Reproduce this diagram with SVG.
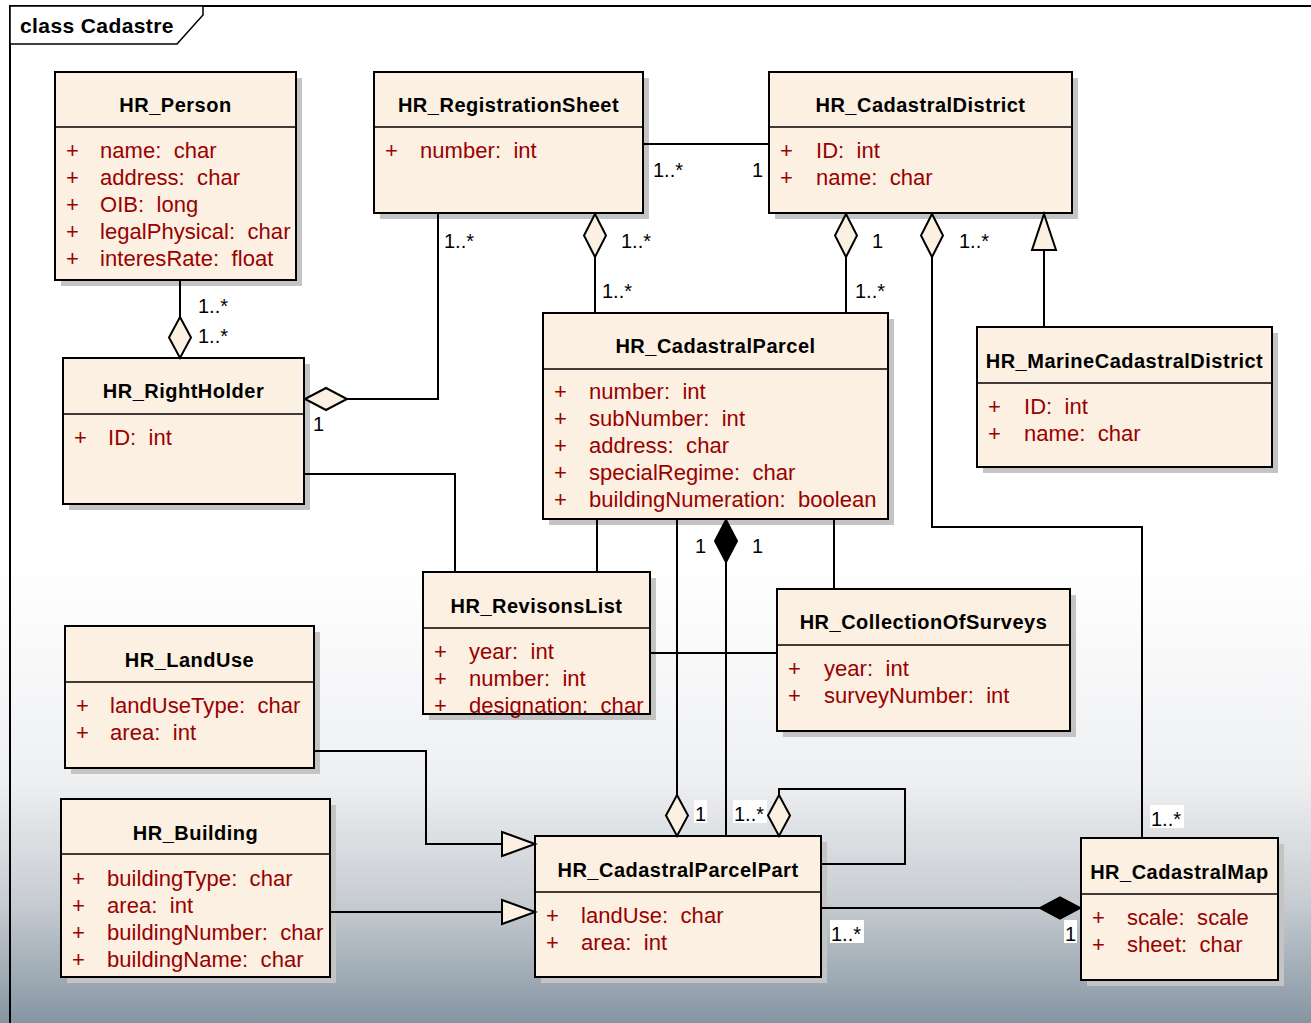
<svg xmlns="http://www.w3.org/2000/svg" width="1311" height="1023" viewBox="0 0 1311 1023">
<defs>
<linearGradient id="bg" x1="0" y1="0" x2="0" y2="1">
<stop offset="0" stop-color="#ffffff"/>
<stop offset="0.55" stop-color="#ffffff"/>
<stop offset="0.76" stop-color="#eff0f2"/>
<stop offset="0.88" stop-color="#c8cdd2"/>
<stop offset="1" stop-color="#8595a2"/>
</linearGradient>
<style>
.shadow{fill:#c4c4c4}
.box{fill:#fbf0e2;stroke:#000;stroke-width:2}
.div{stroke:#000;stroke-width:1.5}
.title{font-family:"Liberation Sans",Arial,sans-serif;font-weight:bold;font-size:20px;letter-spacing:0.5px;text-anchor:middle;fill:#000}
.attr{font-family:"Liberation Sans",Arial,sans-serif;font-size:22px;letter-spacing:0.05px;fill:#990000;white-space:pre}
.conn{fill:none;stroke:#000;stroke-width:2}
.hollow{fill:#fbf0e2;stroke:#000;stroke-width:2}
.filled{fill:#000;stroke:#000;stroke-width:2}
.lbl{font-family:"Liberation Sans",Arial,sans-serif;font-size:20px;fill:#000}
.lblbg{fill:#ffffff}
.frame{fill:none;stroke:#000;stroke-width:2}
</style>
</defs>
<rect x="0" y="0" width="1311" height="1023" fill="url(#bg)"/>
<g id="frame">
<path class="frame" d="M10,1023 V6 H1311"/>
<path d="M10,6 H203 V15 L177,44 H10 Z" fill="#ffffff" stroke="#000" stroke-width="1.5"/>
<text x="20" y="33" style="font-family:'Liberation Sans',Arial,sans-serif;font-weight:bold;font-size:21px;letter-spacing:0.4px">class Cadastre</text>
</g>

<g id="HR_Person">
<rect class="shadow" x="61" y="78" width="241" height="208"/>
<rect class="box" x="55" y="72" width="241" height="208"/>
<line class="div" x1="55" y1="127" x2="296" y2="127"/>
<text class="title" x="175.5" y="112">HR_Person</text>
<text class="attr" x="66" y="158">+</text><text class="attr" x="100" y="158">name:  char</text>
<text class="attr" x="66" y="185">+</text><text class="attr" x="100" y="185">address:  char</text>
<text class="attr" x="66" y="212">+</text><text class="attr" x="100" y="212">OIB:  long</text>
<text class="attr" x="66" y="239">+</text><text class="attr" x="100" y="239">legalPhysical:  char</text>
<text class="attr" x="66" y="266">+</text><text class="attr" x="100" y="266">interesRate:  float</text>
</g>

<g id="HR_RegistrationSheet">
<rect class="shadow" x="380" y="78" width="269" height="141"/>
<rect class="box" x="374" y="72" width="269" height="141"/>
<line class="div" x1="374" y1="127" x2="643" y2="127"/>
<text class="title" x="508.5" y="112">HR_RegistrationSheet</text>
<text class="attr" x="385" y="158">+</text><text class="attr" x="420" y="158">number:  int</text>
</g>

<g id="HR_CadastralDistrict">
<rect class="shadow" x="775" y="78" width="303" height="141"/>
<rect class="box" x="769" y="72" width="303" height="141"/>
<line class="div" x1="769" y1="127" x2="1072" y2="127"/>
<text class="title" x="920.5" y="112">HR_CadastralDistrict</text>
<text class="attr" x="780" y="158">+</text><text class="attr" x="816" y="158">ID:  int</text>
<text class="attr" x="780" y="185">+</text><text class="attr" x="816" y="185">name:  char</text>
</g>

<g id="HR_RightHolder">
<rect class="shadow" x="69" y="364" width="241" height="146"/>
<rect class="box" x="63" y="358" width="241" height="146"/>
<line class="div" x1="63" y1="414" x2="304" y2="414"/>
<text class="title" x="183.5" y="398">HR_RightHolder</text>
<text class="attr" x="74" y="445">+</text><text class="attr" x="108" y="445">ID:  int</text>
</g>

<g id="HR_CadastralParcel">
<rect class="shadow" x="549" y="319" width="345" height="206"/>
<rect class="box" x="543" y="313" width="345" height="206"/>
<line class="div" x1="543" y1="369" x2="888" y2="369"/>
<text class="title" x="715.5" y="353">HR_CadastralParcel</text>
<text class="attr" x="554" y="399">+</text><text class="attr" x="589" y="399">number:  int</text>
<text class="attr" x="554" y="426">+</text><text class="attr" x="589" y="426">subNumber:  int</text>
<text class="attr" x="554" y="453">+</text><text class="attr" x="589" y="453">address:  char</text>
<text class="attr" x="554" y="480">+</text><text class="attr" x="589" y="480">specialRegime:  char</text>
<text class="attr" x="554" y="507">+</text><text class="attr" x="589" y="507">buildingNumeration:  boolean</text>
</g>

<g id="HR_MarineCadastralDistrict">
<rect class="shadow" x="983" y="333" width="295" height="140"/>
<rect class="box" x="977" y="327" width="295" height="140"/>
<line class="div" x1="977" y1="383" x2="1272" y2="383"/>
<text class="title" x="1124.5" y="368">HR_MarineCadastralDistrict</text>
<text class="attr" x="988" y="414">+</text><text class="attr" x="1024" y="414">ID:  int</text>
<text class="attr" x="988" y="441">+</text><text class="attr" x="1024" y="441">name:  char</text>
</g>

<g id="HR_RevisonsList">
<rect class="shadow" x="429" y="578" width="227" height="142"/>
<rect class="box" x="423" y="572" width="227" height="142"/>
<line class="div" x1="423" y1="628" x2="650" y2="628"/>
<text class="title" x="536.5" y="613">HR_RevisonsList</text>
<text class="attr" x="434" y="659">+</text><text class="attr" x="469" y="659">year:  int</text>
<text class="attr" x="434" y="686">+</text><text class="attr" x="469" y="686">number:  int</text>
<text class="attr" x="434" y="713">+</text><text class="attr" x="469" y="713">designation:  char</text>
</g>

<g id="HR_CollectionOfSurveys">
<rect class="shadow" x="783" y="595" width="293" height="142"/>
<rect class="box" x="777" y="589" width="293" height="142"/>
<line class="div" x1="777" y1="645" x2="1070" y2="645"/>
<text class="title" x="923.5" y="629">HR_CollectionOfSurveys</text>
<text class="attr" x="788" y="676">+</text><text class="attr" x="824" y="676">year:  int</text>
<text class="attr" x="788" y="703">+</text><text class="attr" x="824" y="703">surveyNumber:  int</text>
</g>

<g id="HR_LandUse">
<rect class="shadow" x="71" y="632" width="249" height="142"/>
<rect class="box" x="65" y="626" width="249" height="142"/>
<line class="div" x1="65" y1="682" x2="314" y2="682"/>
<text class="title" x="189.5" y="667">HR_LandUse</text>
<text class="attr" x="76" y="713">+</text><text class="attr" x="110" y="713">landUseType:  char</text>
<text class="attr" x="76" y="740">+</text><text class="attr" x="110" y="740">area:  int</text>
</g>

<g id="HR_Building">
<rect class="shadow" x="67" y="805" width="269" height="178"/>
<rect class="box" x="61" y="799" width="269" height="178"/>
<line class="div" x1="61" y1="854" x2="330" y2="854"/>
<text class="title" x="195.5" y="840">HR_Building</text>
<text class="attr" x="72" y="886">+</text><text class="attr" x="107" y="886">buildingType:  char</text>
<text class="attr" x="72" y="913">+</text><text class="attr" x="107" y="913">area:  int</text>
<text class="attr" x="72" y="940">+</text><text class="attr" x="107" y="940">buildingNumber:  char</text>
<text class="attr" x="72" y="967">+</text><text class="attr" x="107" y="967">buildingName:  char</text>
</g>

<g id="HR_CadastralParcelPart">
<rect class="shadow" x="541" y="842" width="286" height="141"/>
<rect class="box" x="535" y="836" width="286" height="141"/>
<line class="div" x1="535" y1="892" x2="821" y2="892"/>
<text class="title" x="678" y="877">HR_CadastralParcelPart</text>
<text class="attr" x="546" y="923">+</text><text class="attr" x="581" y="923">landUse:  char</text>
<text class="attr" x="546" y="950">+</text><text class="attr" x="581" y="950">area:  int</text>
</g>

<g id="HR_CadastralMap">
<rect class="shadow" x="1087" y="844" width="197" height="142"/>
<rect class="box" x="1081" y="838" width="197" height="142"/>
<line class="div" x1="1081" y1="894" x2="1278" y2="894"/>
<text class="title" x="1179.5" y="879">HR_CadastralMap</text>
<text class="attr" x="1092" y="925">+</text><text class="attr" x="1127" y="925">scale:  scale</text>
<text class="attr" x="1092" y="952">+</text><text class="attr" x="1127" y="952">sheet:  char</text>
</g>

<g id="connectors">
<path class="conn" d="M643,144 H769"/>
<path class="conn" d="M595,257 V313"/>
<path class="hollow" d="M595,214 L606,235.5 L595,257 L584,235.5 Z"/>
<path class="conn" d="M846,257 V313"/>
<path class="hollow" d="M846,214 L857,235.5 L846,257 L835,235.5 Z"/>
<path class="conn" d="M932,257 V527 H1142 V838"/>
<path class="hollow" d="M932,214 L943,235.5 L932,257 L921,235.5 Z"/>
<path class="conn" d="M1044,327 V250"/>
<path class="hollow" d="M1044,214 L1056,250 L1032,250 Z"/>
<path class="conn" d="M180,280 V318"/>
<path class="hollow" d="M180,317 L191,337.5 L180,358 L169,337.5 Z"/>
<path class="conn" d="M438,213 V399 H347"/>
<path class="hollow" d="M305,399 L326,388 L347,399 L326,410 Z"/>
<path class="conn" d="M304,474 H455 V572"/>
<path class="conn" d="M597,519 V572"/>
<path class="conn" d="M834,519 V589"/>
<path class="conn" d="M650,653 H777"/>
<path class="conn" d="M677,519 V795"/>
<path class="hollow" d="M677,795 L688,815.5 L677,836 L666,815.5 Z"/>
<path class="conn" d="M726,562 V836"/>
<path class="filled" d="M726,520 L737,541 L726,562 L715,541 Z"/>
<path class="conn" d="M779,795 V789 H905 V864 H821"/>
<path class="hollow" d="M779,795 L790,815.5 L779,836 L768,815.5 Z"/>
<path class="conn" d="M314,751 H426 V844 H502"/>
<path class="hollow" d="M535,844 L502,832 L502,856 Z"/>
<path class="conn" d="M330,912 H502"/>
<path class="hollow" d="M535,912 L502,900 L502,924 Z"/>
<path class="conn" d="M821,908 H1040"/>
<path class="filled" d="M1080,908 L1060,897.5 L1040,908 L1060,918.5 Z"/>

<text class="lbl" x="653" y="177">1..*</text>
<text class="lbl" x="752" y="177">1</text>
<text class="lbl" x="444" y="248">1..*</text>
<text class="lbl" x="621" y="248">1..*</text>
<text class="lbl" x="602" y="298">1..*</text>
<text class="lbl" x="872" y="248">1</text>
<text class="lbl" x="855" y="298">1..*</text>
<text class="lbl" x="959" y="248">1..*</text>
<text class="lbl" x="198" y="313">1..*</text>
<text class="lbl" x="198" y="343">1..*</text>
<text class="lbl" x="313" y="431">1</text>
<text class="lbl" x="695" y="553">1</text>
<text class="lbl" x="752" y="553">1</text>
<rect class="lblbg" x="694" y="800" width="13" height="23"/>
<text class="lbl" x="695" y="821">1</text>
<rect class="lblbg" x="733" y="800" width="34" height="23"/>
<text class="lbl" x="734" y="821">1..*</text>
<rect class="lblbg" x="830" y="920" width="34" height="23"/>
<text class="lbl" x="831" y="941">1..*</text>
<rect class="lblbg" x="1064" y="920" width="13" height="23"/>
<text class="lbl" x="1065" y="941">1</text>
<rect class="lblbg" x="1150" y="805" width="34" height="23"/>
<text class="lbl" x="1151" y="826">1..*</text>
</g>
</svg>
